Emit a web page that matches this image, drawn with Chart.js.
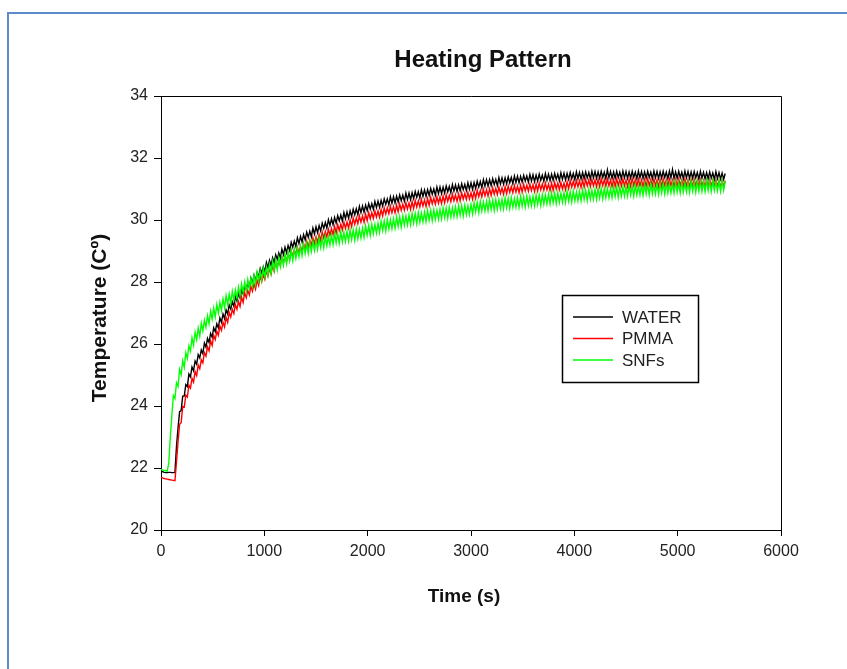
<!DOCTYPE html>
<html>
<head>
<meta charset="utf-8">
<title>Heating Pattern</title>
<script src="https://cdn.jsdelivr.net/npm/chart.js@4.4.0/dist/chart.umd.min.js"></script>
<style>
    html, body { margin: 0; padding: 0; background: #fff; }
    #wrap { position: relative; width: 847px; height: 669px; overflow: hidden; }
    #frame {
        position: absolute; left: 7px; top: 12px; width: 900px; height: 700px;
        border-top: 2px solid #5b8bc8; border-left: 2px solid #5b8bc8;
    }
    #myChart { position: absolute; left: 0; top: 0; }
</style>
</head>
<body>
<div id="wrap">
    <div id="frame"></div>
    <canvas id="myChart" width="847" height="669"></canvas>
</div>
<script>
// time axis (s), one reading every 15 s
var times = [0,15,30,45,60,75,90,105,120,135,150,165,180,195,210,225,240,255,270,285,
    300,315,330,345,360,375,390,405,420,435,450,465,480,495,510,525,540,555,570,585,
    600,615,630,645,660,675,690,705,720,735,750,765,780,795,810,825,840,855,870,885,
    900,915,930,945,960,975,990,1005,1020,1035,1050,1065,1080,1095,1110,1125,1140,1155,1170,1185,
    1200,1215,1230,1245,1260,1275,1290,1305,1320,1335,1350,1365,1380,1395,1410,1425,1440,1455,1470,1485,
    1500,1515,1530,1545,1560,1575,1590,1605,1620,1635,1650,1665,1680,1695,1710,1725,1740,1755,1770,1785,
    1800,1815,1830,1845,1860,1875,1890,1905,1920,1935,1950,1965,1980,1995,2010,2025,2040,2055,2070,2085,
    2100,2115,2130,2145,2160,2175,2190,2205,2220,2235,2250,2265,2280,2295,2310,2325,2340,2355,2370,2385,
    2400,2415,2430,2445,2460,2475,2490,2505,2520,2535,2550,2565,2580,2595,2610,2625,2640,2655,2670,2685,
    2700,2715,2730,2745,2760,2775,2790,2805,2820,2835,2850,2865,2880,2895,2910,2925,2940,2955,2970,2985,
    3000,3015,3030,3045,3060,3075,3090,3105,3120,3135,3150,3165,3180,3195,3210,3225,3240,3255,3270,3285,
    3300,3315,3330,3345,3360,3375,3390,3405,3420,3435,3450,3465,3480,3495,3510,3525,3540,3555,3570,3585,
    3600,3615,3630,3645,3660,3675,3690,3705,3720,3735,3750,3765,3780,3795,3810,3825,3840,3855,3870,3885,
    3900,3915,3930,3945,3960,3975,3990,4005,4020,4035,4050,4065,4080,4095,4110,4125,4140,4155,4170,4185,
    4200,4215,4230,4245,4260,4275,4290,4305,4320,4335,4350,4365,4380,4395,4410,4425,4440,4455,4470,4485,
    4500,4515,4530,4545,4560,4575,4590,4605,4620,4635,4650,4665,4680,4695,4710,4725,4740,4755,4770,4785,
    4800,4815,4830,4845,4860,4875,4890,4905,4920,4935,4950,4965,4980,4995,5010,5025,5040,5055,5070,5085,
    5100,5115,5130,5145,5160,5175,5190,5205,5220,5235,5250,5265,5280,5295,5310,5325,5340,5355,5370,5385,
    5400,5415,5430,5445,5460];

var water = [21.90,21.88,21.86,21.85,21.85,21.86,21.86,21.85,21.85,21.86,22.70,23.30,23.82,23.85,24.32,24.32,24.69,24.63,25.03,24.94,
    25.26,25.14,25.45,25.35,25.66,25.55,25.81,25.69,26.03,25.90,26.18,26.05,26.34,26.22,26.52,26.40,26.65,26.52,26.84,26.70,
    26.97,26.82,27.10,26.97,27.26,27.13,27.36,27.22,27.53,27.38,27.64,27.48,27.75,27.61,27.89,27.75,27.97,27.82,28.12,27.96,
    28.21,28.04,28.30,28.16,28.43,28.28,28.49,28.33,28.63,28.46,28.70,28.53,28.78,28.62,28.88,28.73,28.94,28.77,29.06,28.88,
    29.12,28.94,29.18,29.02,29.28,29.12,29.32,29.15,29.43,29.24,29.47,29.29,29.53,29.36,29.61,29.44,29.64,29.46,29.74,29.55,
    29.78,29.59,29.82,29.65,29.90,29.73,29.92,29.74,30.01,29.82,30.04,29.85,30.08,29.90,30.14,29.97,30.16,29.97,30.24,30.04,
    30.26,30.06,30.29,30.11,30.35,30.17,30.36,30.17,30.44,30.24,30.45,30.25,30.48,30.30,30.53,30.35,30.53,30.34,30.60,30.40,
    30.61,30.41,30.63,30.45,30.68,30.50,30.68,30.49,30.75,30.54,30.75,30.55,30.77,30.58,30.81,30.62,30.80,30.61,30.87,30.66,
    30.87,30.66,30.88,30.69,30.92,30.73,30.91,30.71,30.97,30.76,30.97,30.76,30.98,30.79,31.02,30.83,31.00,30.80,31.06,30.85,
    31.06,30.85,31.06,30.87,31.10,30.91,31.08,30.88,31.14,30.93,31.13,30.92,31.13,30.94,31.17,30.98,31.15,30.95,31.20,30.99,
    31.20,30.99,31.21,31.02,31.25,31.06,31.24,31.04,31.30,31.09,31.30,31.09,31.30,31.11,31.33,31.14,31.31,31.11,31.37,31.16,
    31.36,31.15,31.36,31.17,31.39,31.20,31.37,31.17,31.42,31.21,31.41,31.20,31.41,31.22,31.44,31.25,31.42,31.22,31.47,31.26,
    31.46,31.24,31.45,31.26,31.48,31.28,31.45,31.25,31.50,31.28,31.48,31.27,31.48,31.28,31.50,31.31,31.48,31.27,31.52,31.31,
    31.51,31.29,31.50,31.31,31.53,31.33,31.50,31.30,31.55,31.33,31.53,31.32,31.53,31.33,31.55,31.36,31.53,31.32,31.57,31.36,
    31.56,31.34,31.55,31.35,31.57,31.37,31.54,31.33,31.62,31.36,31.56,31.34,31.55,31.35,31.57,31.37,31.54,31.33,31.58,31.36,
    31.56,31.34,31.55,31.35,31.57,31.37,31.54,31.33,31.58,31.36,31.56,31.34,31.55,31.35,31.57,31.37,31.54,31.33,31.58,31.36,
    31.56,31.34,31.55,31.35,31.57,31.37,31.54,31.33,31.58,31.36,31.63,31.34,31.55,31.35,31.57,31.37,31.54,31.33,31.58,31.36,
    31.56,31.34,31.55,31.34,31.56,31.36,31.53,31.32,31.57,31.35,31.54,31.33,31.53,31.33,31.55,31.35,31.52,31.31,31.56,31.34,
    31.53,31.32,31.51,31.31,31.50];

var pmma = [21.70,21.68,21.66,21.65,21.64,21.63,21.62,21.61,21.60,21.59,22.20,22.85,23.41,23.46,23.98,23.96,24.35,24.29,24.67,24.58,
    24.89,24.77,25.11,24.98,25.32,25.20,25.49,25.39,25.72,25.61,25.91,25.78,26.10,25.95,26.28,26.14,26.41,26.28,26.58,26.44,
    26.70,26.55,26.86,26.70,27.02,26.87,27.12,26.98,27.27,27.12,27.37,27.21,27.51,27.34,27.65,27.49,27.73,27.58,27.86,27.70,
    27.94,27.77,28.06,27.89,28.19,28.02,28.25,28.09,28.37,28.20,28.43,28.26,28.54,28.35,28.64,28.47,28.70,28.53,28.80,28.62,
    28.84,28.65,28.92,28.73,29.01,28.82,29.04,28.86,29.12,28.93,29.15,28.97,29.24,29.04,29.32,29.13,29.35,29.17,29.43,29.24,
    29.46,29.27,29.53,29.33,29.61,29.42,29.63,29.45,29.70,29.51,29.72,29.53,29.79,29.58,29.85,29.66,29.87,29.68,29.93,29.73,
    29.94,29.74,30.00,29.79,30.06,29.86,30.07,29.88,30.13,29.93,30.13,29.93,30.19,29.98,30.24,30.04,30.24,30.05,30.29,30.09,
    30.29,30.09,30.34,30.13,30.39,30.19,30.39,30.20,30.44,30.23,30.43,30.23,30.48,30.26,30.52,30.31,30.51,30.32,30.56,30.35,
    30.55,30.34,30.59,30.37,30.63,30.42,30.62,30.42,30.66,30.45,30.65,30.44,30.69,30.47,30.73,30.52,30.71,30.51,30.75,30.54,
    30.74,30.53,30.77,30.55,30.81,30.60,30.79,30.59,30.83,30.62,30.81,30.60,30.84,30.62,30.88,30.67,30.86,30.66,30.89,30.68,
    30.88,30.67,30.92,30.70,30.96,30.75,30.95,30.75,30.99,30.78,30.98,30.77,31.01,30.79,31.04,30.83,31.02,30.82,31.06,30.85,
    31.04,30.83,31.07,30.85,31.10,30.89,31.08,30.88,31.11,30.90,31.09,30.88,31.12,30.90,31.15,30.94,31.13,30.93,31.16,30.95,
    31.14,30.92,31.16,30.94,31.19,30.97,31.16,30.96,31.19,30.97,31.16,30.95,31.19,30.96,31.21,31.00,31.19,30.98,31.21,31.00,
    31.19,30.98,31.23,31.01,31.27,31.06,31.25,31.05,31.28,31.07,31.26,31.05,31.29,31.06,31.31,31.10,31.29,31.08,31.31,31.10,
    31.29,31.07,31.31,31.08,31.33,31.11,31.30,31.09,31.32,31.10,31.29,31.07,31.31,31.08,31.33,31.11,31.30,31.09,31.32,31.10,
    31.29,31.07,31.31,31.08,31.34,31.11,31.30,31.09,31.32,31.10,31.29,31.07,31.31,31.08,31.33,31.11,31.30,31.09,31.32,31.10,
    31.29,31.07,31.31,31.08,31.33,31.11,31.30,31.09,31.32,31.10,31.29,31.07,31.31,31.08,31.33,31.11,31.30,31.09,31.32,31.10,
    31.29,31.07,31.30,31.07,31.32,31.10,31.29,31.08,31.31,31.09,31.27,31.06,31.29,31.07,31.31,31.09,31.28,31.07,31.30,31.08,
    31.26,31.05,31.28,31.06,31.27];

var snfs = [21.95,21.94,21.92,21.91,21.90,22.15,23.00,23.70,24.34,24.24,24.75,24.63,25.18,25.01,25.46,25.25,25.72,25.53,25.94,25.77,
    26.20,25.96,26.38,26.14,26.51,26.25,26.67,26.42,26.77,26.54,26.91,26.65,27.06,26.80,27.16,26.87,27.27,27.00,27.34,27.09,
    27.45,27.17,27.56,27.28,27.61,27.31,27.70,27.42,27.74,27.48,27.83,27.55,27.94,27.66,28.00,27.70,28.08,27.80,28.12,27.86,
    28.21,27.93,28.31,28.03,28.36,28.06,28.44,28.16,28.48,28.22,28.56,28.28,28.66,28.38,28.71,28.40,28.78,28.49,28.81,28.54,
    28.88,28.59,28.97,28.68,29.00,28.69,29.06,28.77,29.08,28.81,29.14,28.85,29.22,28.92,29.24,28.92,29.29,28.99,29.30,29.02,
    29.35,29.05,29.41,29.11,29.43,29.11,29.47,29.17,29.47,29.19,29.51,29.21,29.57,29.26,29.57,29.25,29.61,29.30,29.60,29.31,
    29.63,29.32,29.68,29.37,29.68,29.35,29.71,29.40,29.70,29.42,29.74,29.44,29.81,29.51,29.82,29.50,29.86,29.56,29.86,29.58,
    29.90,29.60,29.96,29.66,29.97,29.65,30.01,29.71,30.01,29.72,30.04,29.74,30.10,29.79,30.10,29.77,30.13,29.83,30.13,29.84,
    30.16,29.85,30.21,29.90,30.21,29.88,30.24,29.93,30.23,29.94,30.26,29.95,30.31,30.00,30.31,29.98,30.33,30.02,30.32,30.03,
    30.35,30.04,30.39,30.08,30.39,30.06,30.41,30.10,30.40,30.11,30.42,30.11,30.46,30.15,30.46,30.13,30.48,30.17,30.46,30.18,
    30.50,30.20,30.56,30.26,30.57,30.24,30.60,30.29,30.58,30.29,30.61,30.30,30.65,30.34,30.64,30.31,30.66,30.35,30.65,30.36,
    30.67,30.36,30.71,30.40,30.70,30.37,30.72,30.41,30.70,30.41,30.72,30.41,30.76,30.45,30.75,30.42,30.77,30.46,30.75,30.46,
    30.77,30.46,30.81,30.50,30.80,30.47,30.82,30.51,30.81,30.52,30.83,30.52,30.87,30.56,30.86,30.53,30.88,30.57,30.86,30.57,
    30.88,30.57,30.92,30.61,30.91,30.58,30.93,30.62,30.91,30.62,30.93,30.62,30.97,30.66,30.96,30.63,30.98,30.67,30.96,30.67,
    30.98,30.67,31.02,30.71,31.01,30.68,31.03,30.72,31.01,30.72,31.03,30.72,31.07,30.76,31.06,30.73,31.08,30.77,31.06,30.77,
    31.08,30.77,31.12,30.81,31.11,30.77,31.12,30.81,31.10,30.81,31.12,30.80,31.15,30.84,31.14,30.81,31.16,30.84,31.13,30.84,
    31.15,30.83,31.18,30.87,31.17,30.84,31.19,30.87,31.16,30.87,31.18,30.87,31.22,30.90,31.20,30.87,31.22,30.90,31.19,30.90,
    31.21,30.89,31.24,30.93,31.23,30.89,31.24,30.93,31.22,30.92,31.23,30.92,31.27,30.95,31.25,30.92,31.27,30.95,31.24,30.94,
    31.25,30.93,31.28,30.96,31.25];

var seriesNames = ['WATER', 'PMMA', 'SNFs'];
var seriesColors = ['#000000', '#ff0000', '#00ff00'];
var yTicks = [20, 22, 24, 26, 28, 30, 32, 34];
var xTicks = [0, 1000, 2000, 3000, 4000, 5000, 6000];

var fontFamily = 'Arial, "Liberation Sans", sans-serif';

function toPoints(values) {
    return values.map(function (v, i) { return { x: times[i], y: v }; });
}

// title, axis titles, plot frame and the boxed legend inside the plot
var decorations = {
    id: 'decorations',
    afterDraw: function (chart) {
        var ctx = chart.ctx;
        var area = chart.chartArea;
        ctx.save();

        ctx.strokeStyle = '#000';
        ctx.lineWidth = 1;
        ctx.beginPath();
        ctx.moveTo(area.left, area.top + 0.5);
        ctx.lineTo(area.right + 0.5, area.top + 0.5);
        ctx.lineTo(area.right + 0.5, area.bottom);
        ctx.stroke();

        ctx.fillStyle = '#111';
        ctx.textAlign = 'center';
        ctx.textBaseline = 'middle';
        ctx.font = 'bold 24px ' + fontFamily;
        ctx.fillText('Heating Pattern', 483, 60);

        ctx.font = 'bold 19px ' + fontFamily;
        ctx.fillText('Time (s)', 464, 597);

        ctx.save();
        ctx.translate(100, 318);
        ctx.rotate(-Math.PI / 2);
        ctx.font = 'bold 21px ' + fontFamily;
        ctx.fillText('Temperature (Cº)', 0, 0);
        ctx.restore();

        ctx.strokeStyle = '#000';
        ctx.lineWidth = 1.5;
        ctx.strokeRect(562.5, 295.5, 136, 87);
        ctx.font = '17px ' + fontFamily;
        ctx.textAlign = 'left';
        chart.data.datasets.forEach(function (ds, i) {
            var y = 317 + i * 21.5;
            ctx.strokeStyle = ds.borderColor;
            ctx.lineWidth = 1.3;
            ctx.beginPath();
            ctx.moveTo(573, y);
            ctx.lineTo(613, y);
            ctx.stroke();
            ctx.fillStyle = '#222';
            ctx.fillText(ds.label, 622, y + 1);
        });
        ctx.restore();
    }
};

document.addEventListener("DOMContentLoaded", function () {
    var ctx = document.getElementById('myChart').getContext('2d');
    var chart = new Chart(ctx, {
        type: 'line',
        data: {
            datasets: [
                { label: seriesNames[0], data: toPoints(water), borderColor: seriesColors[0], order: 3 },
                { label: seriesNames[1], data: toPoints(pmma), borderColor: seriesColors[1], order: 2 },
                { label: seriesNames[2], data: toPoints(snfs), borderColor: seriesColors[2], order: 1 }
            ]
        },
        options: {
            responsive: false,
            animation: false,
            datasets: {
                line: { borderWidth: 1.4, pointRadius: 0, tension: 0, fill: false }
            },
            layout: { padding: { left: 0, right: 66, top: 96, bottom: 0 } },
            plugins: {
                legend: { display: false },
                tooltip: { enabled: false }
            },
            scales: {
                x: {
                    type: 'linear',
                    min: xTicks[0],
                    max: xTicks[xTicks.length - 1],
                    afterBuildTicks: function (scale) {
                        scale.ticks = xTicks.map(function (v) { return { value: v }; });
                    },
                    afterFit: function (scale) { scale.height = 139; },
                    ticks: {
                        color: '#222', padding: 6, maxRotation: 0, autoSkip: false,
                        font: { family: fontFamily, size: 16 },
                        callback: function (value) { return String(value); }
                    },
                    grid: { drawOnChartArea: false, tickLength: 6, color: '#000', lineWidth: 1 },
                    border: { color: '#000', width: 1 }
                },
                y: {
                    min: yTicks[0],
                    max: yTicks[yTicks.length - 1],
                    afterBuildTicks: function (scale) {
                        scale.ticks = yTicks.map(function (v) { return { value: v }; });
                    },
                    afterFit: function (scale) { scale.width = 161; },
                    ticks: {
                        color: '#222', padding: 6, autoSkip: false,
                        font: { family: fontFamily, size: 16 },
                        callback: function (value) { return String(value); }
                    },
                    grid: { drawOnChartArea: false, tickLength: 7, color: '#000', lineWidth: 1 },
                    border: { color: '#000', width: 1 }
                }
            }
        },
        plugins: [decorations]
    });
});
</script>
</body>
</html>
